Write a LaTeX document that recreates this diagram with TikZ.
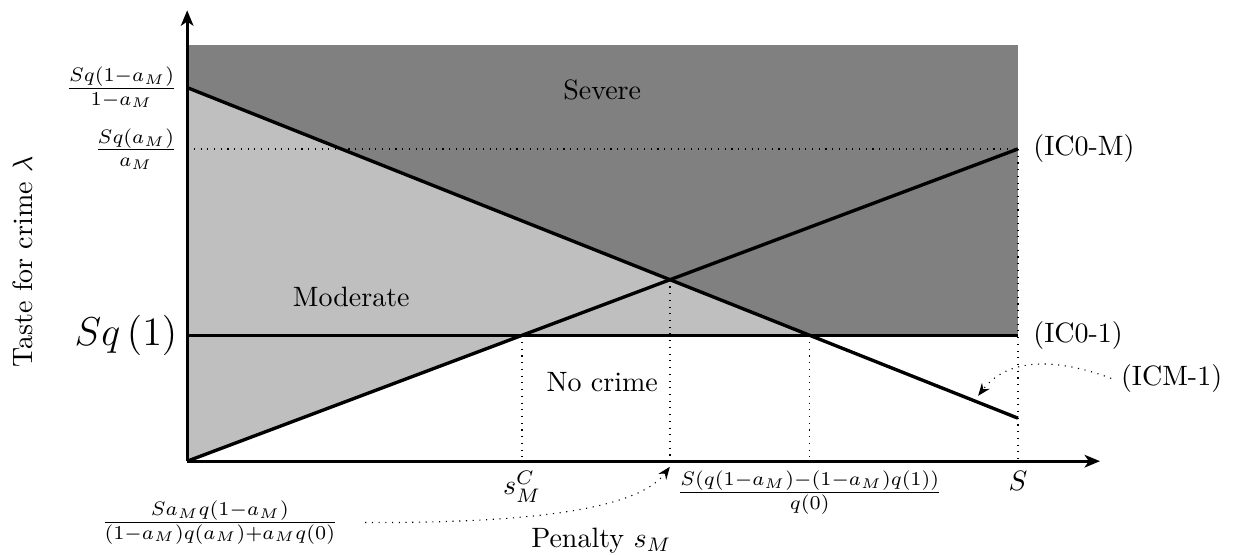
\documentclass[tikz,border=0pt]{standalone}
\usepackage{tikz}
\usetikzlibrary{positioning, intersections, arrows.meta}
\tikzstyle{axis}    = [-{Stealth[length=5.5pt, width=4.5pt, inset=1.5pt]}, very thick]
\tikzstyle{icline}  = [very thick]
\tikzstyle{guide}   = [dotted]
\tikzstyle{pointer} = [-{Stealth[length=4.5pt, width=3.5pt, inset=1.5pt]}, dotted]
\tikzstyle{zone}    = [inner sep=0pt]
\tikzstyle{ticklab} = [inner sep=3.3pt]

\begin{document}
\begin{tikzpicture}
    \useasboundingbox (-2.35,-1.17) rectangle (13.18,5.79);
    % corner points of the plot
    \coordinate (O)    at (0,0);
    \coordinate (topL) at (0,5.22);
    \coordinate (q1L)  at (0,1.58);
    \coordinate (q1R)  at (10.43,1.58);
    \coordinate (cmL)  at (0,4.69);
    \coordinate (cmR)  at (10.43,0.54);
    \coordinate (c0mL) at (0,3.92);
    \coordinate (c0mR) at (10.43,3.92);
    \coordinate (Sax)  at (10.43,0);

    \path[name path=ic01] (q1L) -- (q1R);
    \path[name path=ic0m] (O) -- (c0mR);
    \path[name path=icm1] (cmL) -- (cmR);
    \path[name intersections={of=ic01 and ic0m, by=sC}];
    \path[name intersections={of=icm1 and ic0m, by=cross}];
    \path[name intersections={of=icm1 and ic01, by=sD}];

    % regions
    \fill[black!50] (topL) rectangle (q1R);
    \fill[black!25] (cmL) -- (sD) -- (sC) -- (O) -- cycle;

    % dotted guides
    \draw[guide] (c0mL) -- (c0mR);
    \draw[guide] (c0mR) -- (Sax);
    \draw[guide] (sC) -- (sC |- O);
    \draw[guide] (cross) -- (cross |- O);
    \draw[guide] (sD) -- (sD |- O);

    % incentive constraints
    \draw[icline] (q1L) -- (q1R);
    \draw[icline] (O) -- (c0mR);
    \draw[icline] (cmL) -- (cmR);

    % axes
    \draw[axis] (O) -- (11.46,0);
    \draw[axis] (O) -- (0,5.66);

    % zone names
    \node[zone] (severe)   at (5.21,4.66) {Severe};
    \node[zone] (moderate) at (2.06,2.06) {Moderate};
    \node[zone] (nocrime)  at (5.21,0.99) {No crime};

    % vertical axis labels
    \node[ticklab, left=0pt of cmL, anchor=east]   (lcm)  {$\frac{Sq(1-a_M)}{1-a_M}$};
    \node[ticklab, left=0pt of c0mL, anchor=east]  (lc0m) {$\frac{Sq(a_M)}{a_M}$};
    \node[ticklab, left=0pt of q1L, anchor=east, font=\Large] (lq1) {$Sq\left(1\right)$};
    \node[rotate=90] (ylab) at (-2.07,2.5) {Taste for crime $\lambda$};

    % horizontal axis labels
    \node[below] (lsC) at (sC |- O) {$s_M^C$};
    \node[below] (lsD) at (sD |- O) {$\frac{S(q(1-a_M)-(1-a_M)q(1))}{q(0)}$};
    \node[below] (lS)  at (Sax) {$S$};
    \node (xlab) at (5.2,-1.0) {Penalty $s_M$};
    \node (lcross) at (0.41,-0.77) {$\frac{Sa_Mq(1-a_M)}{(1-a_M)q(a_M)+a_Mq(0)}$};

    % curve names
    \node[right=2pt of c0mR] (nc0m) {(IC0-M)};
    \node[right=2pt of q1R]  (nc01) {(IC0-1)};
    \node[anchor=west] (ncm1) at (11.6,1.04) {(ICM-1)};

    \coordinate (tipcm)    at (9.93,0.82);
    \coordinate (tipcross) at (6.06,-0.07);
    \draw[pointer] (ncm1.west) .. controls (10.9,1.3) and (10.3,1.3) .. (tipcm);
    \draw[pointer] ([xshift=6pt]lcross.east) .. controls (4.6,-0.78) and (5.7,-0.55) .. (tipcross);
\end{tikzpicture}
\end{document}
